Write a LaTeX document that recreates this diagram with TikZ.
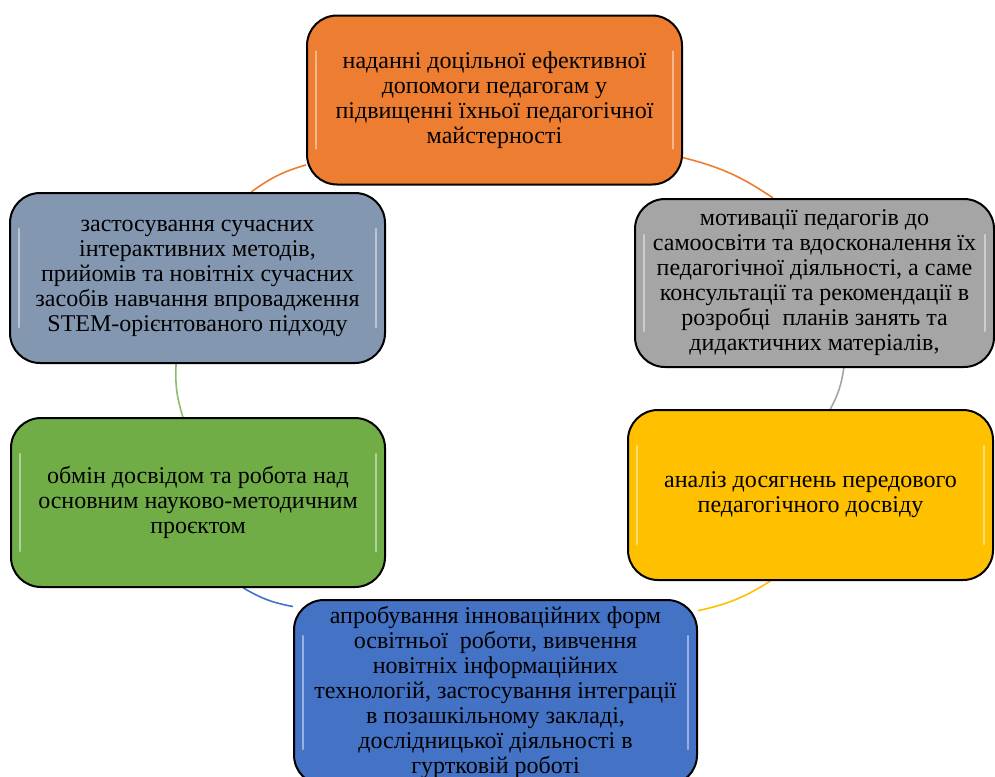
\documentclass[tikz,border=0pt]{standalone}
\usepackage{fontspec}
\setmainfont{Liberation Serif}
\usetikzlibrary{positioning, backgrounds}

\definecolor{orangebox}{HTML}{ED7D31}
\definecolor{graybox}{HTML}{A5A5A5}
\definecolor{yellowbox}{HTML}{FFC000}
\definecolor{bluebox}{HTML}{4472C4}
\definecolor{slatebox}{HTML}{8497B0}
\definecolor{greenbox}{HTML}{70AD47}

\tikzset{
    stage/.style={draw=black, line width=1pt, rounded corners=15pt,
        align=center, inner sep=2pt,
        font=\fontsize{12}{12.5}\selectfont,
        path picture={
            \draw[white, opacity=.45, line width=1.2pt, line cap=round]
                ([shift={(4.5pt,-18pt)}]path picture bounding box.north west)
                -- ([shift={(4.5pt,18pt)}]path picture bounding box.south west);
            \draw[white, opacity=.45, line width=1.2pt, line cap=round]
                ([shift={(-4.5pt,-18pt)}]path picture bounding box.north east)
                -- ([shift={(-4.5pt,18pt)}]path picture bounding box.south east);
        }},
    link/.style={line width=.8pt, bend left=10},
}

\begin{document}
\begin{tikzpicture}[x=0.5pt, y=-0.5pt]
    \useasboundingbox (0,0) rectangle (995,776);
    \clip (0,0) rectangle (995,776);

    \node[stage, fill=orangebox, minimum width=187.5pt, minimum height=84.5pt] (help) at (494.5,100)
        {наданні доцільної ефективної\\допомоги педагогам у\\підвищенні їхньої педагогічної\\майстерності};
    \node[stage, fill=graybox, minimum width=179.5pt, minimum height=84pt] (motiv) at (814.5,283)
        {мотивації педагогів до\\самоосвіти та вдосконалення їх\\педагогічної діяльності, а саме\\консультації та рекомендації в\\розробці\ \ планів занять та\\дидактичних матеріалів,};
    \node[stage, fill=yellowbox, minimum width=182.5pt, minimum height=85pt] (anal) at (810.5,495)
        {аналіз досягнень передового\\педагогічного досвіду};
    \node[stage, fill=bluebox, minimum width=201.5pt, minimum height=92.5pt] (innov) at (495.5,692.5)
        {апробування інноваційних форм\\освітньої\ \ роботи, вивчення\\новітніх інформаційних\\технологій, застосування інтеграції\\в позашкільному закладі,\\дослідницької діяльності в\\гуртковій роботі};
    \node[stage, fill=greenbox, minimum width=187pt, minimum height=84.5pt] (exch) at (198,502.5)
        {обмін досвідом та робота над\\основним науково-методичним\\проєктом};
    \node[stage, fill=slatebox, minimum width=187.5pt, minimum height=85pt] (modern) at (197.5,278)
        {застосування сучасних\\інтерактивних методів,\\прийомів та новітніх сучасних\\засобів навчання впровадження\\STEM-орієнтованого підходу};

    % cycle arcs
    \begin{scope}[on background layer]
        \draw[link, draw=orangebox] (help.-17) to (motiv.116);
        \draw[link, draw=graybox] (motiv.-71) to (anal.77);
        \draw[link, draw=yellowbox] (anal.-115) to (innov.22);
        \draw[link, draw=bluebox] (innov.157) to (exch.-62);
        \draw[link, draw=greenbox!80!white] (exch.100) to (modern.-104);
        \draw[link, draw=orangebox] (modern.58) to (help.199);
    \end{scope}
\end{tikzpicture}
\end{document}
